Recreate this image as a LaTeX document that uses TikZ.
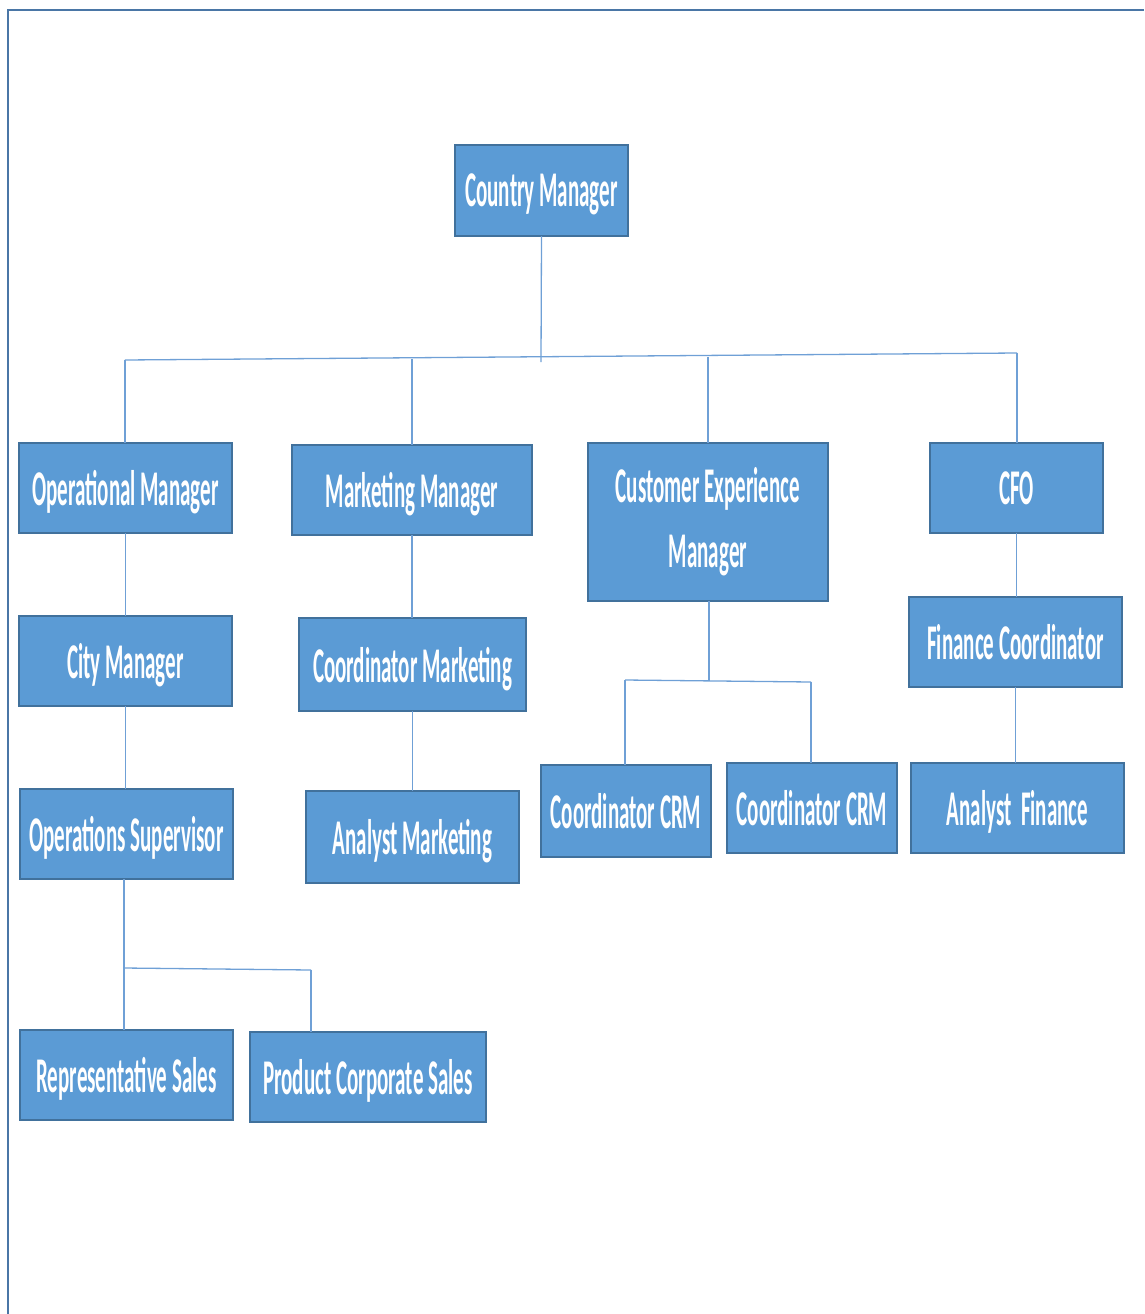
\documentclass[tikz,border=0pt]{standalone}
\usepackage{fontspec}
\newfontfamily\boxfont[FakeStretch=0.42]{Carlito}
\definecolor{boxfill}{HTML}{5B9BD5}
\definecolor{boxline}{HTML}{41719C}
\definecolor{conn}{HTML}{6FA0D6}
\definecolor{framec}{HTML}{4A76A6}
\tikzset{
  boxbase/.style={draw=boxline, fill=boxfill, line width=1.5pt, text=white,
    inner sep=0pt, outer sep=0pt, anchor=north west, align=center,
    font=\boxfont\bfseries\fontsize{50}{65}\selectfont},
  box/.style={boxbase, text depth=0pt},
  link/.style={draw=conn, line width=1.3pt},
  framel/.style={draw=framec, line width=2.6pt}
}
\begin{document}
\begin{tikzpicture}[x=1pt,y=-1pt]
\useasboundingbox (0,0) rectangle (1144,1314);
\draw[framel] (8,1314) -- (8,10) -- (1144,10);

% boxes
\node[box, minimum width=173pt, minimum height=91pt] (cm) at (455,145) {Country Manager};
\node[box, minimum width=213pt, minimum height=90pt] (om) at (19,443) {Operational Manager};
\node[box, minimum width=240pt, minimum height=90pt] (mm) at (292,445) {Marketing Manager};
\node[boxbase, minimum width=240pt, minimum height=158pt] (cx) at (588,443) {Customer Experience\\Manager};
\node[box, minimum width=173pt, minimum height=90pt] (cfo) at (930,443) {CFO};
\node[box, minimum width=213pt, minimum height=90pt] (city) at (19,616) {City Manager};
\node[box, minimum width=227pt, minimum height=93pt] (cmk) at (299,618) {Coordinator Marketing};
\node[box, minimum width=213pt, minimum height=90pt] (fc) at (909,597) {Finance Coordinator};
\node[box, minimum width=213pt, minimum height=90pt] (os) at (20,789) {Operations Supervisor};
\node[box, minimum width=213pt, minimum height=92pt] (am) at (306,791) {Analyst Marketing};
\node[box, minimum width=170pt, minimum height=92pt] (crm1) at (541,765) {Coordinator CRM};
\node[box, minimum width=170pt, minimum height=90pt] (crm2) at (727,763) {Coordinator CRM};
\node[box, minimum width=213pt, minimum height=90pt] (af) at (911,763) {Analyst~~Finance};
\node[box, minimum width=213pt, minimum height=90pt] (rs) at (20,1030) {Representative Sales};
\node[box, minimum width=236pt, minimum height=90pt] (pcs) at (250,1032) {Product Corporate Sales};

% bus coordinates
\coordinate (busL) at (125,360);
\coordinate (busR) at (1017,353);
\coordinate (busM) at (541,362);
\coordinate (busB) at (412,359);
\coordinate (busC) at (708,357);
\coordinate (osL) at (124,968);
\coordinate (osR) at (311,970);
\coordinate (cxL) at (625,680);
\coordinate (cxR) at (811,682);
\coordinate (cxM) at (709,681);

% connectors
\draw[link] (cm.south) -- (busM);
\draw[link] (busL) -- (busR);
\draw[link] (busL) -- (busL |- om.north);
\draw[link] (busB) -- (busB |- mm.north);
\draw[link] (busC) -- (busC |- cx.north);
\draw[link] (busR) -- (busR |- cfo.north);
\draw[link] (om.south) -- (city.north);
\draw[link] (city.south) -- (city.south |- os.north);
\draw[link] (osL |- os.south) -- (osL);
\draw[link] (osL) -- (osR);
\draw[link] (osL) -- (osL |- rs.north);
\draw[link] (osR) -- (osR |- pcs.north);
\draw[link] (mm.south) -- (mm.south |- cmk.north);
\draw[link] (cmk.south) -- (cmk.south |- am.north);
\draw[link] (cxM |- cx.south) -- (cxM);
\draw[link] (cxL) -- (cxR);
\draw[link] (cxL) -- (cxL |- crm1.north);
\draw[link] (cxR) -- (cxR |- crm2.north);
\draw[link] (cfo.south) -- (cfo.south |- fc.north);
\draw[link] (fc.south) -- (fc.south |- af.north);
\end{tikzpicture}
\end{document}
